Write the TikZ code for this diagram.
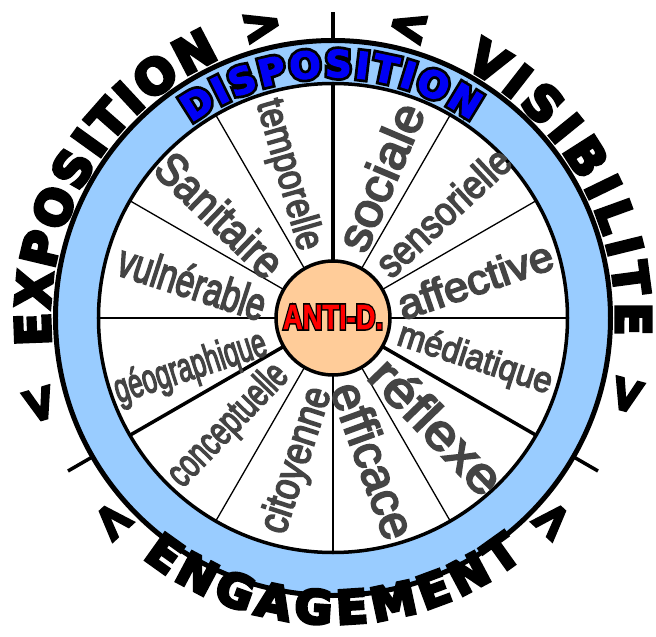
\documentclass[tikz,border=0pt]{standalone}
\usepackage{fontspec}
\usepackage{xcolor}
\usepackage{tikz}
\usetikzlibrary{decorations.text, calc}

\setmainfont{Liberation Sans}
\newfontfamily\wordfont[FakeBold=4]{Liberation Sans}
\newfontfamily\hubfont[FakeBold=1]{Liberation Sans Bold}
\newfontfamily\hubline[FakeBold=10]{Liberation Sans Bold}
\newfontfamily\rimfont[FakeBold=7]{DejaVu Sans Bold}
\newfontfamily\dispfont[FakeBold=3]{DejaVu Sans Bold}
\newfontfamily\displine[FakeBold=18]{DejaVu Sans Bold}

\definecolor{bandblue}{RGB}{153,204,255}
\definecolor{hubpeach}{RGB}{255,204,153}
\definecolor{wordgray}{RGB}{68,68,68}
\definecolor{dispblue}{RGB}{0,0,245}
\definecolor{tagred}{RGB}{255,0,0}

\begin{document}
\begin{tikzpicture}[
    x=1pt, y=1pt,
    every node/.style={inner sep=0pt, outer sep=0pt},
    ringband/.style={circle, draw=black, line width=5pt, fill=bandblue, minimum size=555pt},
    ringdisc/.style={circle, draw=black, line width=3.5pt, fill=white, minimum size=469pt},
    hubdisc/.style={circle, draw=black, line width=3.5pt, fill=hubpeach, minimum size=114pt},
    spokeheavy/.style={line width=3.5pt, draw=black},
    spokemid/.style={line width=2.2pt, draw=black},
    spokethin/.style={line width=1.3pt, draw=black},
    ticker/.style={line width=3.5pt, draw=black, line cap=butt},
    word/.style={text=wordgray, anchor=center},
    chevron/.style={text=black, font=\rimfont\fontsize{48}{48}\selectfont},
    rimtext/.style={decorate, decoration={text along path, text align={fit to path}, text={#1}}}
  ]

    \useasboundingbox (-333,-319) rectangle (323,318);

    % ring and disc
    \node[ringband] (rim) at (0,0) {};
    \node[ringdisc] (disc) at (0,0) {};
    \node[hubdisc] (hub) at (0,0) {};

    % outer ticks
    \foreach \a in {90,210,330}
      \draw[ticker] (\a:277.5) -- (\a:306);

    % spokes
    \foreach \a in {90,210,330}
      \draw[spokeheavy] (hub) -- (\a:234);
    \foreach \a in {0,180}
      \draw[spokemid] (hub) -- (\a:234);
    \foreach \a in {30,60,120,150,240,270,300}
      \draw[spokethin] (hub) -- (\a:234);

    % hub label
    \node[font=\hubline\fontsize{35}{35}\selectfont, text=black, xscale=0.78] (hubtag-o) at (0,1) {ANTI-D.};
    \node[font=\hubfont\fontsize{35}{35}\selectfont, text=tagred, xscale=0.78] (hubtag) at (0,1) {ANTI-D.};

    % sector words
    \foreach \nm/\txt/\ang/\rad/\rot/\sz/\xs in {
      tempo/temporelle/107.5/150/-74/40/0.83,
      sanit/Sanitaire/137.6/153/-44/46/0.87,
      vulne/vulnérable/165.6/145/-18/46/0.72,
      geogr/géographique/199.5/151/18/41/0.63,
      conce/conceptuelle/226/150/46/40/0.69,
      citoy/citoyenne/256/147/72/42/0.84,
      effic/efficace/286/148/-70/48/0.99,
      refle/réflexe/314/150/-46/50/1.12,
      media/médiatique/343.5/148/-18/36/0.91,
      affec/affective/15/147/19/42/1.04,
      senso/sensorielle/44/153/43/40/0.88,
      socia/sociale/71.6/149/67/48/1.04} {
      \node[word, rotate=\rot, xscale=\xs, font=\wordfont\fontsize{\sz}{\sz}\selectfont] (w-\nm) at (\ang:\rad) {\txt};
    }

    % band title
    \path[rimtext={|\displine\fontsize{37}{37}\selectfont\color{black}|DISPOSITION}]
      (126:241) arc[start angle=126, end angle=55, radius=241pt];
    \path[rimtext={|\dispfont\fontsize{37}{37}\selectfont\color{dispblue}|DISPOSITION}]
      (126:241) arc[start angle=126, end angle=55, radius=241pt];

    % outer titles
    \path[rimtext={|\rimfont\fontsize{48}{48}\selectfont|EXPOSITION}]
      (185.5:283) arc[start angle=185.5, end angle=113.5, radius=283pt];
    \path[rimtext={|\rimfont\fontsize{48}{48}\selectfont|VISIBILITE}]
      (62.5:283) arc[start angle=62.5, end angle=-3.5, radius=283pt];
    \path[rimtext={|\rimfont\fontsize{46}{46}\selectfont|ENGAGEMENT}]
      (231.5:306) arc[start angle=231.5, end angle=308.5, radius=306pt];

    % chevrons
    \node[chevron, rotate=13.7] (chev-a) at (103.7:300) {>};
    \node[chevron, rotate=-14.5] (chev-b) at (75.5:300) {<};
    \node[chevron, rotate=-104.7] (chev-c) at (-14.7:303) {>};
    \node[chevron, rotate=47.3] (chev-d) at (-42.7:299) {>};
    \node[chevron, rotate=-47.4] (chev-e) at (222.6:300) {<};
    \node[chevron, rotate=106.4] (chev-f) at (196.4:305) {<};

  \end{tikzpicture}
\end{document}
